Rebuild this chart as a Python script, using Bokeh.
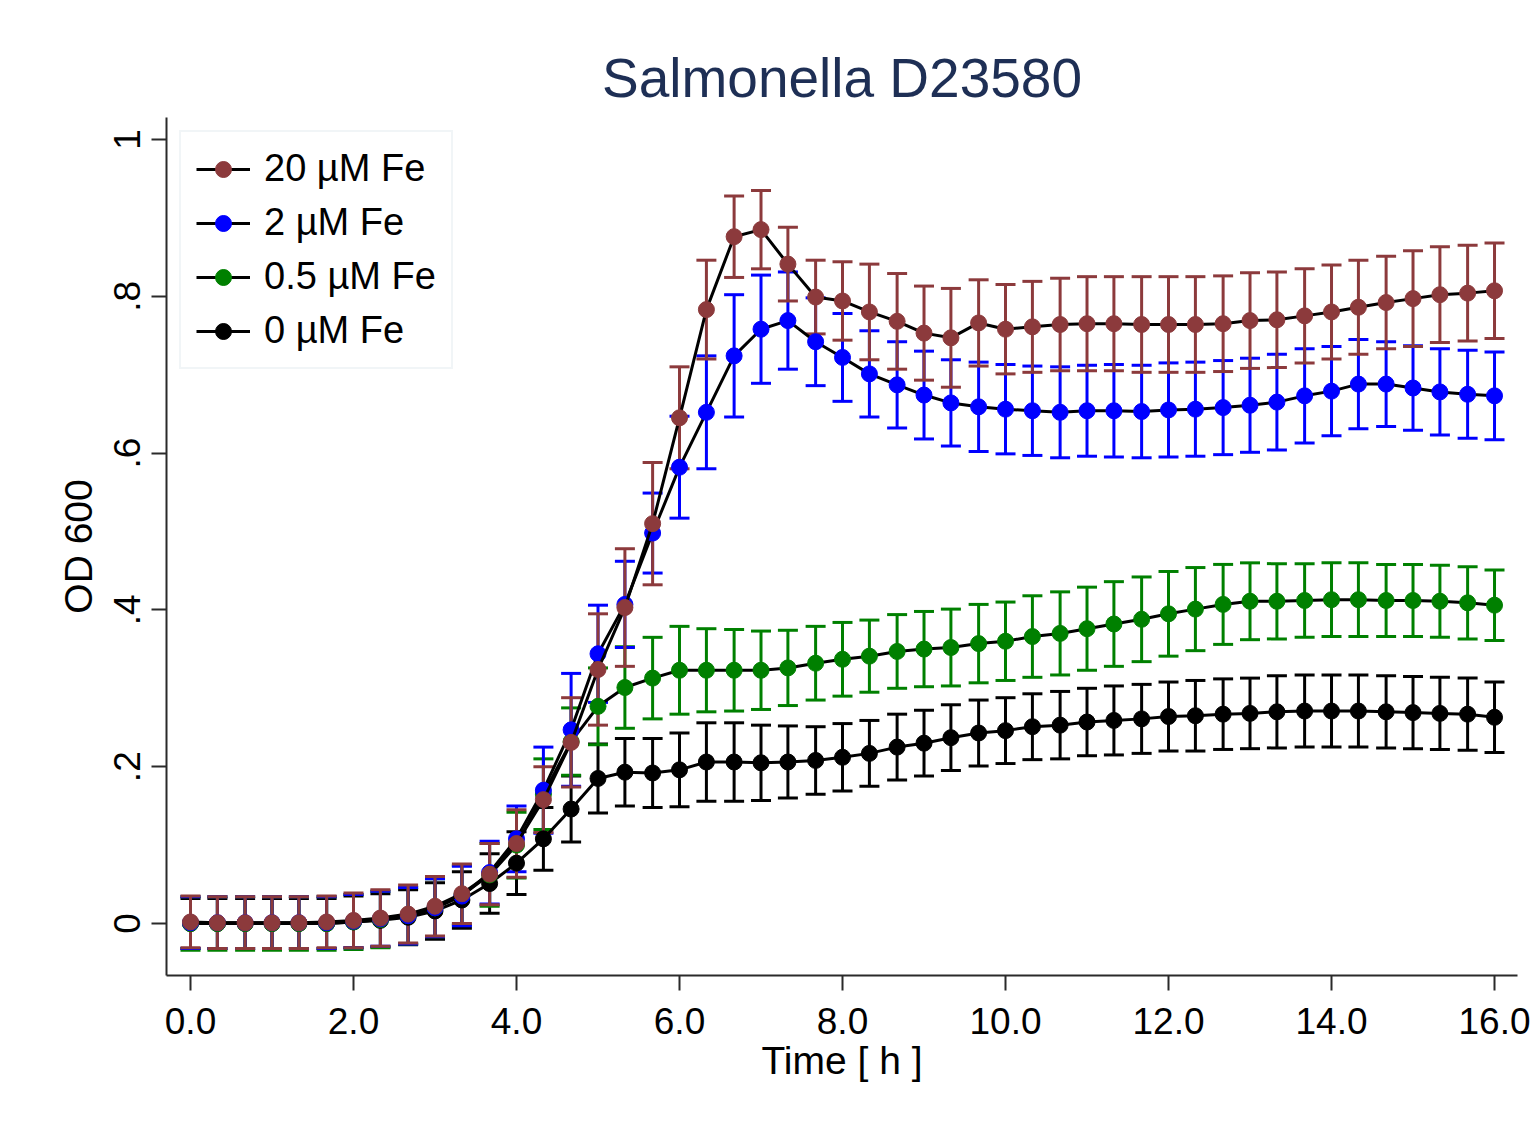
from bokeh.plotting import figure
from bokeh.models import ColumnDataSource, Whisker, TeeHead, FixedTicker, Legend, LegendItem
from bokeh.embed import file_html
from bokeh.resources import INLINE

# Sampling times (hours)
time_h = [0.00, 0.33, 0.67, 1.00, 1.33, 1.67, 2.00, 2.33, 2.67, 3.00,
          3.33, 3.67, 4.00, 4.33, 4.67, 5.00, 5.33, 5.67, 6.00, 6.33,
          6.67, 7.00, 7.33, 7.67, 8.00, 8.33, 8.67, 9.00, 9.33, 9.67,
          10.00, 10.33, 10.67, 11.00, 11.33, 11.67, 12.00, 12.33, 12.67, 13.00,
          13.33, 13.67, 14.00, 14.33, 14.67, 15.00, 15.33, 15.67, 16.00]

# Mean OD600 and standard deviation for each iron concentration
od_20 = [0.002, 0.001, 0.001, 0.001, 0.001, 0.002, 0.004, 0.007, 0.012, 0.022,
         0.038, 0.063, 0.102, 0.158, 0.231, 0.324, 0.403, 0.510, 0.645, 0.783,
         0.876, 0.885, 0.841, 0.799, 0.794, 0.780, 0.768, 0.753, 0.747, 0.766,
         0.758, 0.761, 0.764, 0.765, 0.765, 0.764, 0.764, 0.764, 0.765, 0.769,
         0.770, 0.775, 0.780, 0.786, 0.792, 0.797, 0.802, 0.804, 0.807]
sd_20 = [0.033, 0.033, 0.033, 0.033, 0.033, 0.033, 0.035, 0.036, 0.037, 0.038,
         0.038, 0.039, 0.043, 0.042, 0.057, 0.071, 0.075, 0.078, 0.065, 0.063,
         0.052, 0.050, 0.047, 0.047, 0.050, 0.061, 0.061, 0.060, 0.063, 0.055,
         0.057, 0.058, 0.059, 0.060, 0.060, 0.061, 0.061, 0.061, 0.061, 0.061,
         0.061, 0.060, 0.060, 0.060, 0.059, 0.061, 0.061, 0.061, 0.061]

od_2 = [0.001, 0.001, 0.001, 0.001, 0.001, 0.001, 0.003, 0.006, 0.010, 0.020,
        0.035, 0.065, 0.108, 0.170, 0.247, 0.344, 0.407, 0.498, 0.582, 0.652,
        0.724, 0.758, 0.769, 0.742, 0.722, 0.701, 0.687, 0.674, 0.664, 0.659,
        0.656, 0.654, 0.652, 0.654, 0.654, 0.653, 0.655, 0.656, 0.658, 0.661,
        0.665, 0.673, 0.679, 0.688, 0.688, 0.683, 0.678, 0.675, 0.673]
sd_2 = [0.033, 0.033, 0.033, 0.033, 0.033, 0.033, 0.034, 0.035, 0.036, 0.037,
        0.038, 0.040, 0.042, 0.055, 0.072, 0.062, 0.055, 0.051, 0.065, 0.072,
        0.078, 0.069, 0.062, 0.056, 0.056, 0.055, 0.055, 0.056, 0.055, 0.057,
        0.057, 0.057, 0.058, 0.058, 0.059, 0.059, 0.060, 0.060, 0.060, 0.060,
        0.061, 0.060, 0.057, 0.057, 0.054, 0.054, 0.055, 0.056, 0.056]

od_05 = [0.000, 0.000, 0.000, 0.000, 0.000, 0.000, 0.002, 0.005, 0.010, 0.020,
         0.036, 0.062, 0.100, 0.165, 0.232, 0.277, 0.301, 0.313, 0.323, 0.323,
         0.323, 0.323, 0.326, 0.332, 0.337, 0.341, 0.347, 0.350, 0.352, 0.357,
         0.360, 0.366, 0.370, 0.376, 0.382, 0.388, 0.395, 0.401, 0.407, 0.411,
         0.411, 0.412, 0.413, 0.413, 0.412, 0.412, 0.411, 0.409, 0.406]
sd_05 = [0.034, 0.034, 0.034, 0.034, 0.034, 0.034, 0.035, 0.036, 0.036, 0.037,
         0.038, 0.040, 0.042, 0.045, 0.043, 0.049, 0.052, 0.052, 0.056, 0.053,
         0.052, 0.050, 0.048, 0.047, 0.047, 0.046, 0.047, 0.048, 0.049, 0.050,
         0.050, 0.052, 0.053, 0.053, 0.054, 0.054, 0.054, 0.053, 0.051, 0.049,
         0.048, 0.047, 0.047, 0.047, 0.046, 0.046, 0.046, 0.046, 0.045]

od_0 = [0.000, 0.000, 0.000, 0.000, 0.000, 0.000, 0.002, 0.004, 0.008, 0.016,
        0.030, 0.051, 0.077, 0.108, 0.146, 0.185, 0.193, 0.192, 0.196, 0.206,
        0.206, 0.205, 0.206, 0.208, 0.212, 0.217, 0.225, 0.230, 0.237, 0.243,
        0.246, 0.251, 0.253, 0.257, 0.259, 0.261, 0.264, 0.265, 0.267, 0.268,
        0.270, 0.271, 0.271, 0.271, 0.270, 0.269, 0.268, 0.267, 0.263]
sd_0 = [0.032, 0.032, 0.032, 0.032, 0.032, 0.032, 0.033, 0.034, 0.035, 0.036,
        0.036, 0.038, 0.040, 0.040, 0.042, 0.044, 0.043, 0.044, 0.047, 0.050,
        0.050, 0.048, 0.046, 0.043, 0.043, 0.042, 0.042, 0.042, 0.042, 0.042,
        0.042, 0.042, 0.043, 0.043, 0.044, 0.044, 0.044, 0.045, 0.045, 0.045,
        0.046, 0.046, 0.046, 0.046, 0.046, 0.046, 0.046, 0.046, 0.045]

series_labels = ["20 \u00b5M Fe", "2 \u00b5M Fe", "0.5 \u00b5M Fe", "0 \u00b5M Fe"]
series_colors = ["#8c3a3c", "#0000ff", "#008000", "#000000"]
series_means = [od_20, od_2, od_05, od_0]
series_sds = [sd_20, sd_2, sd_05, sd_0]

x_ticks = [0, 2, 4, 6, 8, 10, 12, 14, 16]
x_tick_labels = ["0.0", "2.0", "4.0", "6.0", "8.0", "10.0", "12.0", "14.0", "16.0"]
y_ticks = [0, 0.2, 0.4, 0.6, 0.8, 1]
y_tick_labels = ["0", ".2", ".4", ".6", ".8", "1"]

FONT = "Liberation Sans"
AXIS_COLOR = "#2a2a2a"

p = figure(width=1539, height=1123, output_backend="svg", toolbar_location=None,
           x_range=(-0.2945, 16.282), y_range=(-0.0663, 1.028),
           min_border_left=166, min_border_right=22,
           min_border_top=117, min_border_bottom=148,
           background_fill_color="white", border_fill_color="white")

p.title.text = "Salmonella D23580"
p.title.align = "center"
p.title.text_font = FONT
p.title.text_font_size = "55px"
p.title.text_font_style = "normal"
p.title.text_color = "#1e2f55"
p.title.standoff = 17

p.outline_line_color = None
p.xgrid.visible = False
p.ygrid.visible = False

for ax in (p.xaxis[0], p.yaxis[0]):
    ax.axis_line_color = AXIS_COLOR
    ax.axis_line_width = 2
    ax.major_tick_line_color = AXIS_COLOR
    ax.major_tick_line_width = 2
    ax.major_tick_in = 0
    ax.major_tick_out = 15
    ax.minor_tick_line_color = None
    ax.major_label_text_font = FONT
    ax.major_label_text_font_size = "37px"
    ax.major_label_text_color = "black"
    ax.axis_label_text_font = FONT
    ax.axis_label_text_font_size = "39px"
    ax.axis_label_text_font_style = "normal"
    ax.axis_label_text_color = "black"

p.xaxis.ticker = FixedTicker(ticks=x_ticks)
p.xaxis.major_label_overrides = dict(zip(x_ticks, x_tick_labels))
p.xaxis.axis_label = "Time [ h ]"
p.xaxis.major_label_standoff = 17
p.xaxis.axis_label_standoff = 2

p.yaxis.ticker = FixedTicker(ticks=y_ticks)
p.yaxis.major_label_overrides = dict(zip(y_ticks, y_tick_labels))
p.yaxis.major_label_orientation = "vertical"
p.yaxis.axis_label = "OD 600"
p.yaxis.major_label_standoff = 11
p.yaxis.axis_label_standoff = 12

# Error bars first (black at the bottom, 20 uM on top)
order = [3, 2, 1, 0]
sources = {}
for i in order:
    lo = [m - s for m, s in zip(series_means[i], series_sds[i])]
    hi = [m + s for m, s in zip(series_means[i], series_sds[i])]
    src = ColumnDataSource(dict(t=time_h, od=series_means[i], lo=lo, hi=hi))
    sources[i] = src
    c = series_colors[i]
    w = Whisker(source=src, base="t", lower="lo", upper="hi", dimension="height",
                line_color=c, line_width=3,
                lower_head=TeeHead(size=20, line_color=c, line_width=3),
                upper_head=TeeHead(size=20, line_color=c, line_width=3))
    p.add_layout(w)

items = {}
for i in order:
    src = sources[i]
    c = series_colors[i]
    ln = p.line("t", "od", source=src, line_color="black", line_width=3)
    sc = p.scatter("t", "od", source=src, marker="circle", size=16,
                   fill_color=c, line_color=c, line_width=1)
    items[i] = LegendItem(label=series_labels[i], renderers=[ln, sc])

legend = Legend(items=[items[i] for i in range(4)], location="top_left",
                margin=13, padding=15, spacing=11,
                glyph_width=54, glyph_height=40, label_standoff=14,
                label_text_font=FONT, label_text_font_size="38px",
                label_text_color="black",
                border_line_color="#e3ecf0", border_line_width=2,
                background_fill_color="white", background_fill_alpha=1.0)
p.add_layout(legend)

open("out.html", "w").write(file_html(p, INLINE))
